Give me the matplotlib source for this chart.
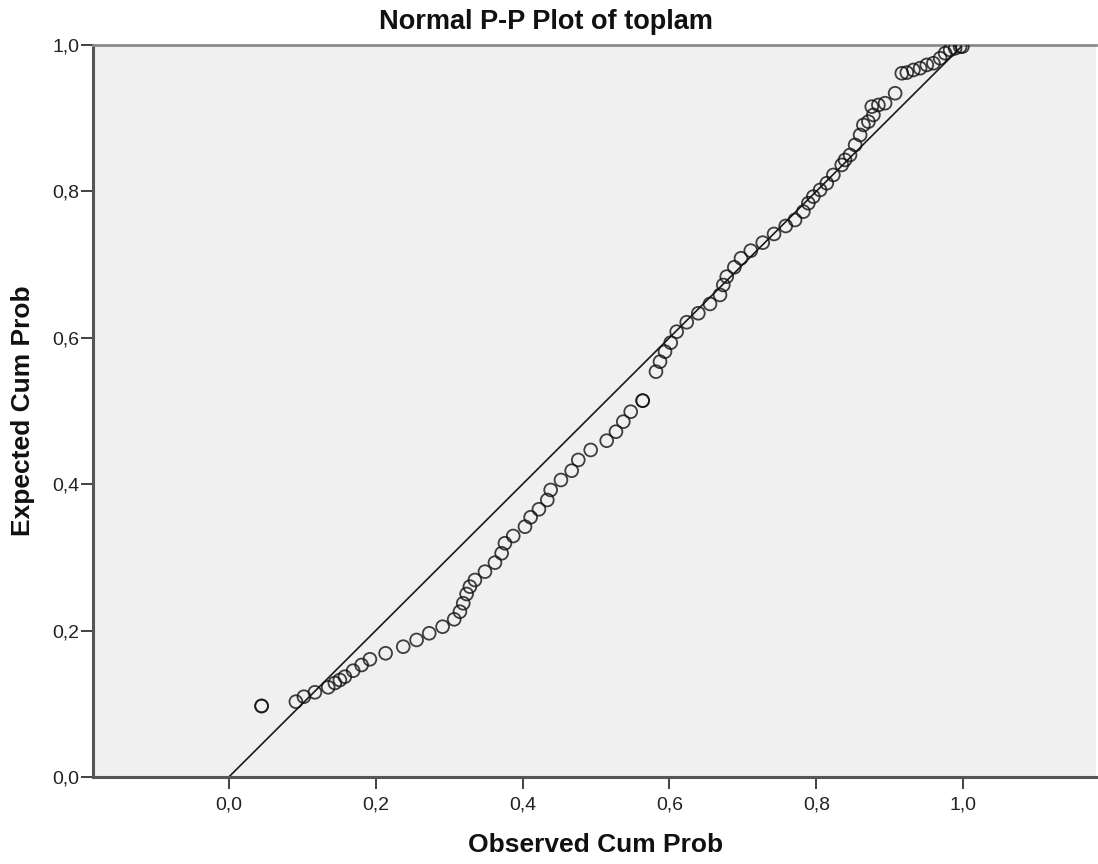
import numpy as np
import matplotlib
matplotlib.use("Agg")
import matplotlib.pyplot as plt
from matplotlib.ticker import FuncFormatter

# observed / expected cumulative probabilities
observed = [0.0446, 0.0446, 0.0913, 0.1022, 0.1172, 0.1353, 0.1444, 0.1512, 0.1580,
            0.1693, 0.1808, 0.1921, 0.2135, 0.2375, 0.2557, 0.2729, 0.2911, 0.3069,
            0.3147, 0.3192, 0.3238, 0.3283, 0.3351, 0.3488, 0.3624, 0.3715, 0.3760,
            0.3873, 0.4033, 0.4110, 0.4223, 0.4337, 0.4383, 0.4523, 0.4669, 0.4759,
            0.4928, 0.5146, 0.5272, 0.5372, 0.5473, 0.5636, 0.5636, 0.5817, 0.5872,
            0.5940, 0.6018, 0.6099, 0.6236, 0.6394, 0.6553, 0.6689, 0.6734, 0.6781,
            0.6884, 0.6975, 0.7108, 0.7271, 0.7425, 0.7584, 0.7711, 0.7824, 0.7892,
            0.7960, 0.8052, 0.8143, 0.8233, 0.8347, 0.8392, 0.8460, 0.8529, 0.8597,
            0.8642, 0.8710, 0.8778, 0.8756, 0.8846, 0.8937, 0.9074, 0.9165, 0.9233,
            0.9323, 0.9414, 0.9505, 0.9595, 0.9687, 0.9755, 0.9823, 0.9891, 0.9959,
            0.9990]
expected = [0.0970, 0.0970, 0.1029, 0.1097, 0.1157, 0.1225, 0.1284, 0.1325, 0.1370,
            0.1452, 0.1530, 0.1608, 0.1690, 0.1780, 0.1872, 0.1963, 0.2053, 0.2154,
            0.2258, 0.2373, 0.2500, 0.2600, 0.2691, 0.2805, 0.2928, 0.3056, 0.3193,
            0.3292, 0.3419, 0.3548, 0.3657, 0.3784, 0.3921, 0.4057, 0.4184, 0.4331,
            0.4467, 0.4594, 0.4717, 0.4854, 0.4990, 0.5141, 0.5141, 0.5537, 0.5673,
            0.5810, 0.5933, 0.6083, 0.6212, 0.6335, 0.6462, 0.6585, 0.6721, 0.6835,
            0.6963, 0.7086, 0.7190, 0.7299, 0.7418, 0.7527, 0.7609, 0.7723, 0.7838,
            0.7928, 0.8019, 0.8111, 0.8224, 0.8361, 0.8429, 0.8497, 0.8634, 0.8770,
            0.8907, 0.8952, 0.9044, 0.9157, 0.9180, 0.9204, 0.9340, 0.9613, 0.9622,
            0.9658, 0.9682, 0.9727, 0.9750, 0.9818, 0.9887, 0.9932, 0.9955, 0.9977,
            0.9977]
ticks = [0.0, 0.2, 0.4, 0.6, 0.8, 1.0]

plt.rcParams['font.family'] = ['Liberation Sans', 'DejaVu Sans']

fig = plt.figure(figsize=(10.98, 8.64), dpi=100)
ax = fig.add_axes([0.0847, 0.1007, 0.9135, 0.8473])
ax.set_facecolor("#f0f0f0")

ax.plot([0, 1], [0, 1], color="#1a1a1a", lw=1.2, zorder=2)
ax.scatter(observed, expected, s=85, facecolors="none", edgecolors="#111111",
           linewidths=1.3, alpha=0.8, zorder=3)

ax.set_xlim(-0.185, 1.181)
ax.set_ylim(0, 1)
ax.set_xticks(ticks)
ax.set_yticks(ticks)
comma = FuncFormatter(lambda v, p: ("%.1f" % v).replace(".", ","))
ax.xaxis.set_major_formatter(comma)
ax.yaxis.set_major_formatter(comma)
ax.tick_params(direction="out", length=8.5, width=1.3, colors="#333333",
               labelcolor="#222222", labelsize=14)
ax.tick_params(axis="y", pad=1.5)
ax.tick_params(axis="x", pad=5.5)

for side in ["left", "bottom"]:
    ax.spines[side].set_color("#555555")
    ax.spines[side].set_linewidth(2.2)
ax.spines["top"].set_color("#8a8a8a")
ax.spines["top"].set_linewidth(2.0)
ax.spines["right"].set_visible(False)

fig.text(0.497, 0.966, "Normal P-P Plot of toplam", fontsize=19.5,
         fontweight="bold", ha="center", va="baseline", color="#111111")
fig.text(0.542, 0.022, "Observed Cum Prob", fontsize=19, fontweight="bold",
         ha="center", va="center", color="#111111")
fig.text(0.021, 0.525, "Expected Cum Prob", fontsize=19, fontweight="bold",
         ha="center", va="center", rotation=90, color="#111111")

plt.savefig("out.png", dpi=100)
